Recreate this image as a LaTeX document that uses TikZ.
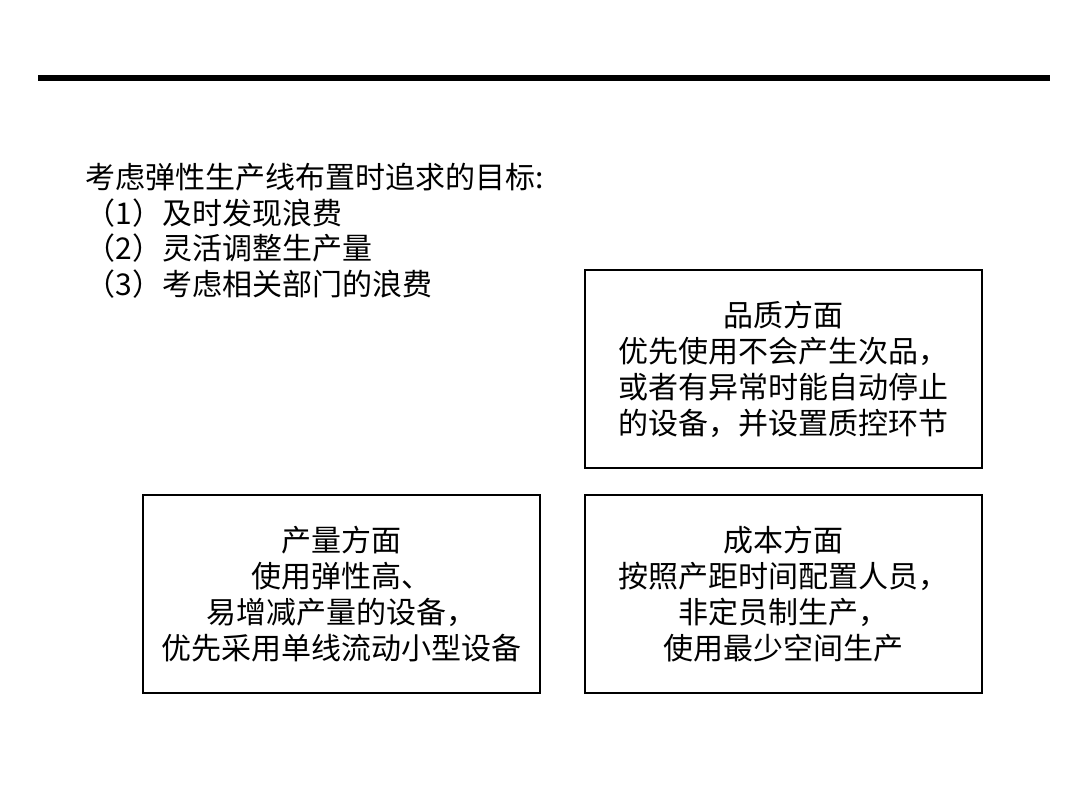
\documentclass[tikz,border=0pt]{standalone}
\usepackage{fontspec}
\setmainfont{Noto Sans CJK SC}
\usetikzlibrary{positioning}
\newcommand{\framecol}{black}
\newcommand{\bodyfont}{\fontsize{15}{18}\selectfont}

\begin{document}
\begin{tikzpicture}[x=0.5pt,y=-0.5pt,
    aspectbox/.style={draw=\framecol, line width=1pt, minimum width=198.5pt, minimum height=99pt,
        inner sep=0pt, align=center, font=\bodyfont},
    goaltext/.style={anchor=north west, inner sep=0pt, align=left,
        font=\fontsize{15}{17.75}\selectfont}]
    \useasboundingbox (0,0) rectangle (1080,810);
    % rule at the top
    \coordinate (ruleL) at (38,78);
    \coordinate (ruleR) at (1050,78);
    \draw[line width=3pt] (ruleL) -- (ruleR);
    % goals
    \node[goaltext] (goals) at (85,163) {考虑弹性生产线布置时追求的目标:\\
        （1）及时发现浪费\\
        （2）灵活调整生产量\\
        （3）考虑相关部门的浪费};
    % the three aspects
    \node[aspectbox] (quality) at (783.5,369) {品质方面\\
        优先使用不会产生次品，\\
        或者有异常时能自动停止\\
        的设备，并设置质控环节};
    \node[aspectbox, below=12.5pt of quality] (cost) {成本方面\\
        按照产距时间配置人员，\\
        非定员制生产，\\
        使用最少空间生产};
    \node[aspectbox, left=21.5pt of cost] (output) {产量方面\\
        使用弹性高、\\
        易增减产量的设备，\\
        优先采用单线流动小型设备};
\end{tikzpicture}
\end{document}
